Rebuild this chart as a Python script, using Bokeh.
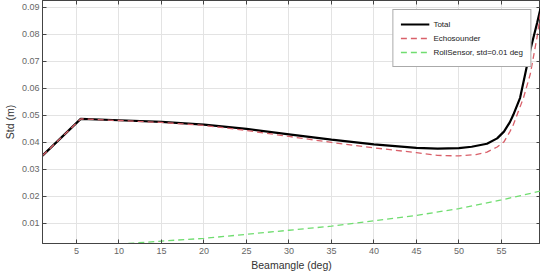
from bokeh.plotting import figure
from bokeh.models import Range1d, FixedTicker, LinearAxis, Legend, LegendItem
from bokeh.embed import file_html
from bokeh.resources import INLINE

# Data
total_x = [1, 5.5, 10, 15, 20, 25, 30, 35, 40, 45, 47.5, 50, 51.5, 53.3, 54.5, 55.3, 56,
           56.4, 57.2, 57.8, 58.4, 59.2, 59.6]
total_y = [0.0351, 0.0487, 0.0482, 0.0476, 0.0466, 0.0450, 0.0430, 0.0410, 0.0393, 0.0380,
           0.0377, 0.0379, 0.0384, 0.0395, 0.0415, 0.0440, 0.0475,
           0.0502, 0.0565, 0.0653, 0.0742, 0.0842, 0.0895]

echo_x = [1, 5.5, 10, 15, 20, 25, 30, 35, 40, 45, 47.5, 50, 52, 53.3, 54.5, 55.3, 56,
          56.4, 57, 57.6, 58.4, 59.2, 59.6]
echo_y = [0.0351, 0.0487, 0.0481, 0.0474, 0.0463, 0.0444, 0.0422, 0.0400, 0.0380, 0.0362,
          0.0352, 0.0350, 0.0355, 0.0364, 0.0383, 0.0402, 0.0440,
          0.0465, 0.0515, 0.0565, 0.0653, 0.0790, 0.0880]

roll_x = [11.1, 15, 20, 25, 30, 35, 40, 45, 50, 55, 59.6]
roll_y = [0.0026, 0.0035, 0.0045, 0.0060, 0.0075, 0.0090, 0.0110, 0.0130, 0.0155, 0.0187, 0.0220]

x_ticks = [5, 10, 15, 20, 25, 30, 35, 40, 45, 50, 55]
y_ticks = [0.01, 0.02, 0.03, 0.04, 0.05, 0.06, 0.07, 0.08, 0.09]

FONT = "Liberation Sans"
TICK_COL = "#666666"
AX_COL = "#444444"

p = figure(width=540, height=273, output_backend="svg", toolbar_location=None,
           x_range=Range1d(1, 59.6), y_range=Range1d(0.0026, 0.0925),
           min_border_top=0, min_border_right=0, min_border_bottom=0, min_border_left=0)

p.background_fill_color = "white"
p.border_fill_color = "white"
p.outline_line_color = AX_COL
p.outline_line_width = 1

for ax in p.xaxis:
    ax.ticker = FixedTicker(ticks=x_ticks)
for ax in p.yaxis:
    ax.ticker = FixedTicker(ticks=y_ticks)

def style_axis(ax, labels=True):
    ax.axis_line_color = AX_COL
    ax.major_tick_line_color = AX_COL
    ax.major_tick_in = 4
    ax.major_tick_out = 0
    ax.minor_tick_line_color = None
    ax.major_label_text_font = FONT
    ax.axis_label_text_font = FONT
    ax.axis_label_text_color = "#333333"
    ax.axis_label_text_font_style = "normal"
    ax.axis_label_text_font_size = "10.5px"
    if labels:
        ax.major_label_text_font_size = "9px"
        ax.major_label_text_color = TICK_COL
        ax.major_label_standoff = 4
    else:
        ax.major_label_text_font_size = "1px"
        ax.major_label_text_color = None
        ax.major_label_standoff = 0

style_axis(p.xaxis[0])
style_axis(p.yaxis[0])
p.xaxis[0].axis_label = "Beamangle (deg)"
p.yaxis[0].axis_label = "Std (m)"
p.xaxis[0].axis_label_standoff = 2
p.yaxis[0].axis_label_standoff = 3
p.yaxis[0].major_label_standoff = 3

top_ax = LinearAxis(ticker=FixedTicker(ticks=x_ticks))
style_axis(top_ax, labels=False)
p.add_layout(top_ax, "above")
right_ax = LinearAxis(ticker=FixedTicker(ticks=y_ticks))
style_axis(right_ax, labels=False)
p.add_layout(right_ax, "right")

p.xgrid.ticker = FixedTicker(ticks=x_ticks)
p.ygrid.ticker = FixedTicker(ticks=y_ticks)
p.grid.grid_line_color = "#e3e3e3"
p.grid.grid_line_width = 1

r_total = p.line(total_x, total_y, line_color="black", line_width=2.2)
r_echo = p.line(echo_x, echo_y, line_color="#d9606a", line_width=1.3, line_dash="6 4")
r_roll = p.line(roll_x, roll_y, line_color="#70dd70", line_width=1.3, line_dash="6 4")

legend = Legend(items=[
    LegendItem(label="Total", renderers=[r_total]),
    LegendItem(label="Echosounder", renderers=[r_echo]),
    LegendItem(label="RollSensor, std=0.01 deg", renderers=[r_roll]),
], location="top_right")
legend.label_text_font = FONT
legend.label_text_font_size = "8px"
legend.label_text_color = "#222222"
legend.border_line_color = "#555555"
legend.border_line_width = 1
legend.background_fill_alpha = 1
legend.glyph_width = 29
legend.glyph_height = 14
legend.label_height = 14
legend.spacing = 0
legend.padding = 7
legend.margin = 9
legend.label_standoff = 4
p.add_layout(legend)

open("out.html", "w").write(file_html(p, INLINE))
